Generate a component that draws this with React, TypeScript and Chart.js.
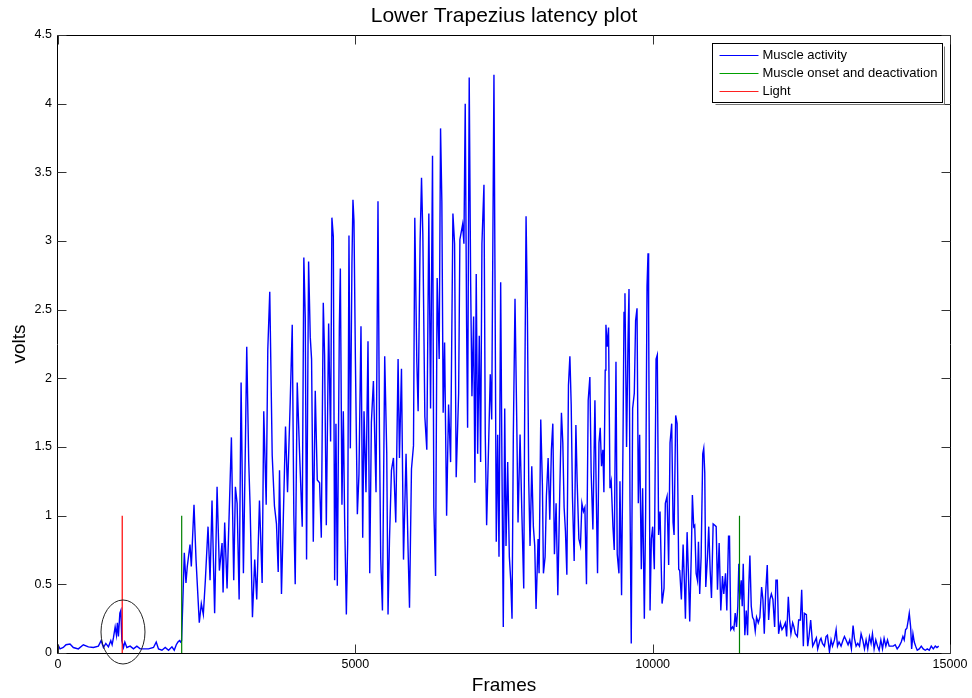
import React, { useEffect, useRef } from "react";
import { Chart, registerables } from "chart.js";

Chart.register(...registerables);

const FONT = '"Liberation Sans", Arial, Helvetica, sans-serif';

// ---- Texts ----
const TITLE = "Lower Trapezius latency plot";
const X_LABEL = "Frames";
const Y_LABEL = "volts";
const SERIES_LABELS = ["Muscle activity", "Muscle onset and deactivation", "Light"];

// ---- Ticks ----
const X_TICKS = [0, 5000, 10000, 15000];
const Y_TICKS = [0, 0.5, 1, 1.5, 2, 2.5, 3, 3.5, 4, 4.5];

// ---- Event markers (frames) ----
const LIGHT_FRAME = 1080;
const ONSET_FRAME = 2080;
const DEACTIVATION_FRAME = 11460;
const MARKER_HEIGHT = 1;

// ---- Circled region (data coords) ----
const CIRCLE_FRAME = 1093;
const CIRCLE_VOLTS = 0.153;

// ---- Muscle activity, read segment by segment ----
const FRAMES_REST = [0, 34, 89, 135, 202, 258, 342, 426, 511, 595, 679, 725, 764, 804, 848, 888, 910, 932, 961, 983, 999, 1016, 1040, 1057, 1074, 1101, 1124, 1158, 1213, 1269, 1326, 1382, 1466, 1522, 1606, 1652, 1690, 1748, 1803, 1859, 1916, 1955, 1989, 2017, 2044, 2061, 2078];
const VOLTS_REST = [0.06, 0.03, 0.04, 0.06, 0.065, 0.04, 0.03, 0.06, 0.045, 0.04, 0.05, 0.09, 0.04, 0.07, 0.045, 0.09, 0.06, 0.11, 0.19, 0.13, 0.22, 0.12, 0.29, 0.31, 0.09, 0.04, 0.08, 0.04, 0.05, 0.03, 0.05, 0.03, 0.03, 0.03, 0.04, 0.08, 0.03, 0.02, 0.04, 0.02, 0.045, 0.02, 0.06, 0.08, 0.09, 0.08, 0.09];

const FRAMES_RISE = [2098, 2124, 2152, 2174, 2220, 2242, 2287, 2321, 2376, 2410, 2444, 2478, 2523, 2557, 2590, 2634, 2675, 2714, 2759, 2776, 2803, 2843, 2860, 2916, 2955, 2983, 3012, 3046, 3079, 3118, 3152, 3174, 3207, 3231, 3270, 3308, 3342, 3388, 3433, 3460, 3501, 3528, 3561, 3602, 3640, 3674, 3703, 3725, 3758, 3780, 3826, 3860, 3905, 3939, 3966, 3989, 4023, 4062, 4107, 4134];
const VOLTS_RISE = [0.36, 0.73, 0.51, 0.63, 0.79, 0.63, 1.08, 0.68, 0.22, 0.36, 0.28, 0.53, 0.92, 0.53, 1.11, 0.29, 1.21, 0.6, 0.8, 0.44, 0.95, 0.47, 0.74, 1.57, 0.53, 1.21, 1.09, 0.39, 1.97, 0.58, 1.54, 2.23, 1.4, 1.06, 0.26, 0.68, 0.39, 1.11, 0.51, 1.76, 1.08, 2.21, 2.63, 1.44, 1.07, 0.94, 0.59, 1.33, 0.43, 0.82, 1.65, 1.17, 1.83, 2.39, 1.0, 0.5, 1.97, 1.46, 0.92, 2.88];

const FRAMES_BUILD = [4158, 4180, 4214, 4242, 4264, 4293, 4326, 4360, 4399, 4428, 4461, 4483, 4512, 4551, 4584, 4606, 4630, 4652, 4674, 4697, 4731, 4748, 4775, 4798, 4820, 4849, 4871, 4893, 4916, 4943, 4960, 4977, 5001, 5034, 5061, 5095, 5124, 5146, 5179, 5213, 5242, 5270, 5304, 5348, 5381, 5405, 5427, 5456, 5494, 5528, 5550, 5574, 5607, 5641, 5680, 5719, 5742, 5776, 5810, 5853, 5887, 5911, 5944, 5978, 6000, 6034, 6056, 6089, 6113, 6135, 6169];
const VOLTS_BUILD = [2.44, 0.68, 2.85, 2.3, 2.14, 0.81, 1.91, 1.26, 1.24, 0.84, 2.55, 2.17, 0.93, 2.4, 1.54, 3.17, 3.03, 0.53, 1.67, 0.49, 2.37, 2.8, 1.08, 1.76, 0.98, 0.28, 0.8, 3.04, 1.49, 2.84, 3.3, 3.15, 2.14, 1.01, 1.3, 2.38, 0.84, 1.76, 1.17, 2.27, 0.58, 1.68, 1.98, 1.17, 3.29, 1.63, 0.69, 0.31, 2.16, 1.46, 0.28, 0.82, 1.33, 1.42, 0.95, 2.14, 1.42, 2.07, 0.68, 1.45, 0.75, 0.33, 1.34, 1.51, 3.17, 2.12, 1.76, 2.99, 3.46, 3.05, 1.72];

const FRAMES_PEAK = [6202, 6236, 6265, 6298, 6320, 6349, 6376, 6410, 6433, 6455, 6477, 6501, 6535, 6568, 6602, 6641, 6669, 6696, 6737, 6758, 6804, 6826, 6848, 6871, 6888, 6915, 6939, 6961, 6989, 7011, 7033, 7057, 7084, 7107, 7129, 7163, 7185, 7208, 7242, 7269, 7293, 7331, 7348, 7370, 7394, 7416, 7444, 7466, 7488, 7512, 7534, 7562, 7590, 7613, 7635, 7657, 7685, 7714, 7736, 7770, 7803, 7832, 7849, 7871, 7893, 7916, 7938, 7967, 7994, 8017, 8039, 8073, 8090, 8118, 8146, 8163, 8191, 8213, 8242, 8270, 8297, 8321, 8348];
const VOLTS_PEAK = [1.48, 3.2, 1.78, 3.62, 1.06, 0.56, 2.73, 2.14, 3.82, 3.29, 1.75, 2.26, 1.0, 1.81, 1.39, 3.2, 2.98, 1.28, 1.89, 3.01, 3.12, 2.98, 4.0, 2.39, 1.64, 4.19, 2.7, 1.87, 2.45, 1.24, 2.76, 1.45, 2.31, 1.39, 2.98, 3.41, 1.59, 0.93, 1.53, 2.03, 1.7, 4.21, 2.79, 0.81, 1.59, 0.7, 2.7, 1.34, 0.19, 1.78, 0.78, 1.39, 0.7, 0.53, 0.25, 1.59, 2.58, 1.7, 0.95, 1.59, 0.97, 0.47, 1.87, 3.18, 2.51, 1.25, 0.78, 1.36, 0.92, 0.78, 0.32, 0.83, 0.58, 1.7, 1.22, 0.58, 0.7, 1.14, 1.42, 0.97, 1.48, 1.67, 0.72];

const FRAMES_FALL = [8376, 8405, 8439, 8466, 8489, 8511, 8533, 8557, 8584, 8608, 8630, 8651, 8680, 8709, 8730, 8759, 8786, 8810, 8836, 8860, 8887, 8916, 8944, 8966, 8995, 9029, 9051, 9073, 9097, 9118, 9140, 9163, 9180, 9202, 9214, 9236, 9258, 9282, 9303, 9332, 9354, 9383, 9404, 9433, 9450, 9477, 9501, 9518, 9534, 9561, 9585, 9602, 9618, 9640, 9663, 9691, 9713, 9737, 9759, 9781, 9809, 9831, 9860, 9882, 9905, 9922, 9932, 9956, 9978, 10000, 10028, 10057, 10078, 10100, 10124, 10158, 10191, 10213, 10242, 10269, 10292, 10320, 10343, 10360, 10387, 10411, 10438];
const VOLTS_FALL = [1.09, 0.42, 1.2, 1.75, 1.53, 1.06, 0.89, 0.57, 1.95, 2.16, 1.81, 1.14, 0.67, 1.66, 1.25, 0.83, 0.78, 1.09, 1.03, 1.06, 0.5, 1.84, 2.01, 1.31, 0.9, 1.84, 1.17, 0.58, 1.53, 1.64, 1.36, 1.48, 1.17, 2.06, 2.39, 2.23, 2.37, 1.2, 1.25, 0.92, 0.75, 2.12, 0.72, 0.58, 1.25, 0.42, 1.53, 2.48, 2.62, 1.5, 2.26, 2.65, 1.14, 0.07, 1.78, 1.89, 2.42, 2.51, 1.09, 1.59, 0.61, 1.2, 0.25, 1.03, 2.67, 2.91, 2.48, 0.31, 0.83, 0.92, 0.61, 2.14, 2.17, 0.86, 1.03, 0.36, 0.47, 1.09, 1.14, 0.64, 1.53, 1.67, 0.95, 0.86, 1.73, 1.67, 0.61];

const FRAMES_DECAY = [10455, 10483, 10512, 10534, 10551, 10579, 10601, 10623, 10652, 10668, 10690, 10707, 10731, 10753, 10770, 10791, 10815, 10842, 10859, 10876, 10893, 10922, 10943, 10967, 10989, 11017, 11045, 11068, 11090, 11118, 11146, 11174, 11196, 11225, 11247, 11276, 11292, 11314, 11343, 11365, 11388, 11410, 11432, 11449, 11466, 11489, 11506, 11523, 11550, 11574, 11596, 11618, 11635, 11658, 11680, 11702, 11725, 11747, 11776, 11803, 11832, 11854, 11877, 11899, 11927, 11950, 11972, 11996, 12022, 12051, 12073, 12096, 12118, 12147, 12174, 12202, 12231, 12253, 12281, 12303, 12325, 12354, 12376, 12399, 12433, 12455, 12484, 12506];
const VOLTS_DECAY = [0.6, 0.39, 0.79, 0.51, 0.25, 0.88, 0.58, 0.23, 0.77, 1.15, 0.92, 0.93, 0.58, 0.53, 0.81, 0.43, 0.7, 1.45, 1.49, 1.31, 0.48, 0.7, 0.92, 0.6, 0.4, 0.94, 0.93, 0.92, 0.46, 0.8, 0.31, 0.56, 0.43, 0.58, 0.31, 0.85, 0.85, 0.17, 0.19, 0.17, 0.29, 0.19, 0.34, 0.65, 0.39, 0.53, 0.34, 0.65, 0.13, 0.31, 0.13, 0.51, 0.71, 0.34, 0.26, 0.24, 0.16, 0.26, 0.22, 0.26, 0.48, 0.39, 0.14, 0.43, 0.64, 0.24, 0.39, 0.43, 0.39, 0.19, 0.53, 0.53, 0.14, 0.22, 0.17, 0.19, 0.22, 0.12, 0.41, 0.24, 0.14, 0.22, 0.19, 0.14, 0.12, 0.24, 0.24, 0.46];

const FRAMES_TAIL = [12534, 12551, 12585, 12607, 12629, 12657, 12691, 12713, 12753, 12775, 12814, 12831, 12855, 12888, 12916, 12939, 12956, 12973, 13000, 13024, 13057, 13085, 13108, 13134, 13168, 13202, 13225, 13252, 13286, 13314, 13342, 13370, 13393, 13421, 13449, 13478, 13505, 13533, 13562, 13589, 13617, 13646, 13673, 13696, 13724, 13752, 13781, 13808, 13837, 13865, 13892, 13921, 13949, 13977, 14011, 14045, 14078, 14112, 14146, 14180, 14208, 14230, 14253, 14275, 14298, 14315, 14338, 14355, 14377, 14399, 14422, 14449, 14483, 14517, 14550, 14584, 14618, 14651, 14685, 14719, 14753, 14781, 14810];
const VOLTS_TAIL = [0.05, 0.29, 0.28, 0.05, 0.12, 0.24, 0.05, 0.07, 0.11, 0.03, 0.095, 0.107, 0.07, 0.05, 0.12, 0.13, 0.07, 0.01, 0.095, 0.05, 0.095, 0.17, 0.05, 0.08, 0.05, 0.095, 0.12, 0.095, 0.06, 0.095, 0.03, 0.2, 0.107, 0.05, 0.07, 0.05, 0.14, 0.095, 0.03, 0.095, 0.03, 0.12, 0.07, 0.14, 0.03, 0.095, 0.05, 0.02, 0.095, 0.03, 0.107, 0.05, 0.095, 0.05, 0.05, 0.05, 0.06, 0.03, 0.05, 0.08, 0.12, 0.095, 0.17, 0.18, 0.24, 0.29, 0.19, 0.03, 0.14, 0.08, 0.05, 0.02, 0.03, 0.05, 0.03, 0.02, 0.03, 0.02, 0.05, 0.03, 0.05, 0.04, 0.05];

const FRAMES = [...FRAMES_REST, ...FRAMES_RISE, ...FRAMES_BUILD, ...FRAMES_PEAK, ...FRAMES_FALL, ...FRAMES_DECAY, ...FRAMES_TAIL];
const VOLTS = [...VOLTS_REST, ...VOLTS_RISE, ...VOLTS_BUILD, ...VOLTS_PEAK, ...VOLTS_FALL, ...VOLTS_DECAY, ...VOLTS_TAIL];

const COLORS = ["#0000ff", "#008000", "#ff0000"];
const LEGEND_COLORS = ["#0000ff", "#00a000", "#ff2020"];

const decorPlugin = {
  id: "decor",
  afterDraw(chart: any) {
    const { ctx, chartArea: a, scales } = chart;
    const xs = scales.x;
    const ys = scales.y;
    ctx.save();

    // Axes box
    const L = Math.round(a.left) - 0.5;
    const R = Math.round(a.right) + 0.5;
    const T = Math.round(a.top) + 0.5;
    const B = Math.round(a.bottom) + 0.5;
    ctx.strokeStyle = "#000";
    ctx.lineWidth = 1;
    ctx.beginPath();
    ctx.moveTo(L, T);
    ctx.lineTo(R, T);
    ctx.lineTo(R, B);
    ctx.lineTo(L, B);
    ctx.closePath();
    ctx.stroke();

    // Inward ticks on all four sides
    const TL = 9;
    ctx.strokeStyle = "#333";
    ctx.beginPath();
    X_TICKS.forEach((v) => {
      const px = Math.round(xs.getPixelForValue(v)) + 0.5;
      ctx.moveTo(px, B);
      ctx.lineTo(px, B - TL);
      ctx.moveTo(px, T);
      ctx.lineTo(px, T + TL);
    });
    Y_TICKS.forEach((v) => {
      const py = Math.round(ys.getPixelForValue(v)) + 0.5;
      ctx.moveTo(L, py);
      ctx.lineTo(L + TL, py);
      ctx.moveTo(R, py);
      ctx.lineTo(R - TL, py);
    });
    ctx.stroke();

    // Circle around the light response
    const cx = xs.getPixelForValue(CIRCLE_FRAME);
    const cy = ys.getPixelForValue(CIRCLE_VOLTS);
    ctx.strokeStyle = "#222";
    ctx.lineWidth = 1;
    ctx.beginPath();
    ctx.ellipse(cx, cy, 22, 32, 0, 0, Math.PI * 2);
    ctx.stroke();

    // Title and axis labels
    ctx.fillStyle = "#000";
    ctx.textAlign = "center";
    ctx.textBaseline = "alphabetic";
    ctx.font = `21px ${FONT}`;
    ctx.fillText(TITLE, (a.left + a.right) / 2, 22);
    ctx.font = `19px ${FONT}`;
    ctx.fillText(X_LABEL, (a.left + a.right) / 2, 691);
    ctx.save();
    ctx.translate(25, (a.top + a.bottom) / 2);
    ctx.rotate(-Math.PI / 2);
    ctx.fillText(Y_LABEL, 0, 0);
    ctx.restore();

    // Legend box (inside, top right)
    const bw = 230;
    const bh = 59;
    const bx = Math.round(a.right) - 8 - bw + 0.5;
    const by = Math.round(a.top) + 8 + 0.5;
    ctx.strokeStyle = "#777";
    ctx.beginPath();
    ctx.moveTo(bx + bw + 2, by + 3);
    ctx.lineTo(bx + bw + 2, by + bh + 2);
    ctx.lineTo(bx + 3, by + bh + 2);
    ctx.stroke();
    ctx.fillStyle = "#fff";
    ctx.fillRect(bx, by, bw, bh);
    ctx.strokeStyle = "#000";
    ctx.strokeRect(bx, by, bw, bh);
    ctx.font = `13px ${FONT}`;
    ctx.textAlign = "left";
    ctx.textBaseline = "middle";
    SERIES_LABELS.forEach((lab, i) => {
      const ry = Math.round(by + 11.5 + i * 18) + 0.5;
      ctx.strokeStyle = LEGEND_COLORS[i];
      ctx.lineWidth = 1;
      ctx.beginPath();
      ctx.moveTo(bx + 7, ry);
      ctx.lineTo(bx + 46, ry);
      ctx.stroke();
      ctx.fillStyle = "#000";
      ctx.fillText(lab, bx + 50, ry);
    });

    ctx.restore();
  },
};

export default function App() {
  const ref = useRef<HTMLCanvasElement | null>(null);

  useEffect(() => {
    document.body.style.margin = "0";
    document.body.style.background = "#fff";
    const canvas = ref.current;
    if (!canvas) return;

    const activity = FRAMES.map((f, i) => ({ x: f, y: VOLTS[i] }));
    const onsetDeact = [
      { x: ONSET_FRAME, y: 0 },
      { x: ONSET_FRAME, y: MARKER_HEIGHT },
      { x: (ONSET_FRAME + DEACTIVATION_FRAME) / 2, y: null },
      { x: DEACTIVATION_FRAME, y: 0 },
      { x: DEACTIVATION_FRAME, y: MARKER_HEIGHT },
    ];
    const light = [
      { x: LIGHT_FRAME, y: 0 },
      { x: LIGHT_FRAME, y: MARKER_HEIGHT },
    ];

    const chart = new Chart(canvas, {
      type: "line",
      data: {
        datasets: [
          { label: SERIES_LABELS[0], data: activity, borderColor: COLORS[0], borderWidth: 1.4, pointRadius: 0, tension: 0, order: 3 },
          { label: SERIES_LABELS[1], data: onsetDeact as any, borderColor: COLORS[1], borderWidth: 1.2, pointRadius: 0, tension: 0, spanGaps: false, order: 2 },
          { label: SERIES_LABELS[2], data: light, borderColor: COLORS[2], borderWidth: 1.2, pointRadius: 0, tension: 0, order: 1 },
        ],
      },
      options: {
        responsive: false,
        animation: false,
        devicePixelRatio: 1,
        events: [],
        layout: { padding: { top: 35, right: 22, left: 0, bottom: 0 } },
        plugins: {
          legend: { display: false },
          title: { display: false },
          tooltip: { enabled: false },
        },
        scales: {
          x: {
            type: "linear",
            min: 0,
            max: 15000,
            afterBuildTicks: (s: any) => {
              s.ticks = X_TICKS.map((v) => ({ value: v }));
            },
            afterFit: (s: any) => {
              s.height = 45;
            },
            grid: { display: false, drawTicks: false },
            border: { display: false },
            ticks: {
              autoSkip: false,
              maxRotation: 0,
              padding: 4,
              color: "#000",
              font: { family: FONT, size: 12.5 },
              callback: (v: any) => String(v),
            },
          },
          y: {
            type: "linear",
            min: 0,
            max: 4.5,
            afterBuildTicks: (s: any) => {
              s.ticks = Y_TICKS.map((v) => ({ value: v }));
            },
            afterFit: (s: any) => {
              s.width = 58;
            },
            grid: { display: false, drawTicks: false },
            border: { display: false },
            ticks: {
              autoSkip: false,
              padding: 6,
              color: "#000",
              font: { family: FONT, size: 12.5 },
              callback: (v: any) => String(v),
            },
          },
        },
      },
      plugins: [decorPlugin],
    });

    return () => chart.destroy();
  }, []);

  return (
    <div style={{ width: 972, height: 698, background: "#fff" }}>
      <canvas ref={ref} width={972} height={698} style={{ display: "block" }} />
    </div>
  );
}
